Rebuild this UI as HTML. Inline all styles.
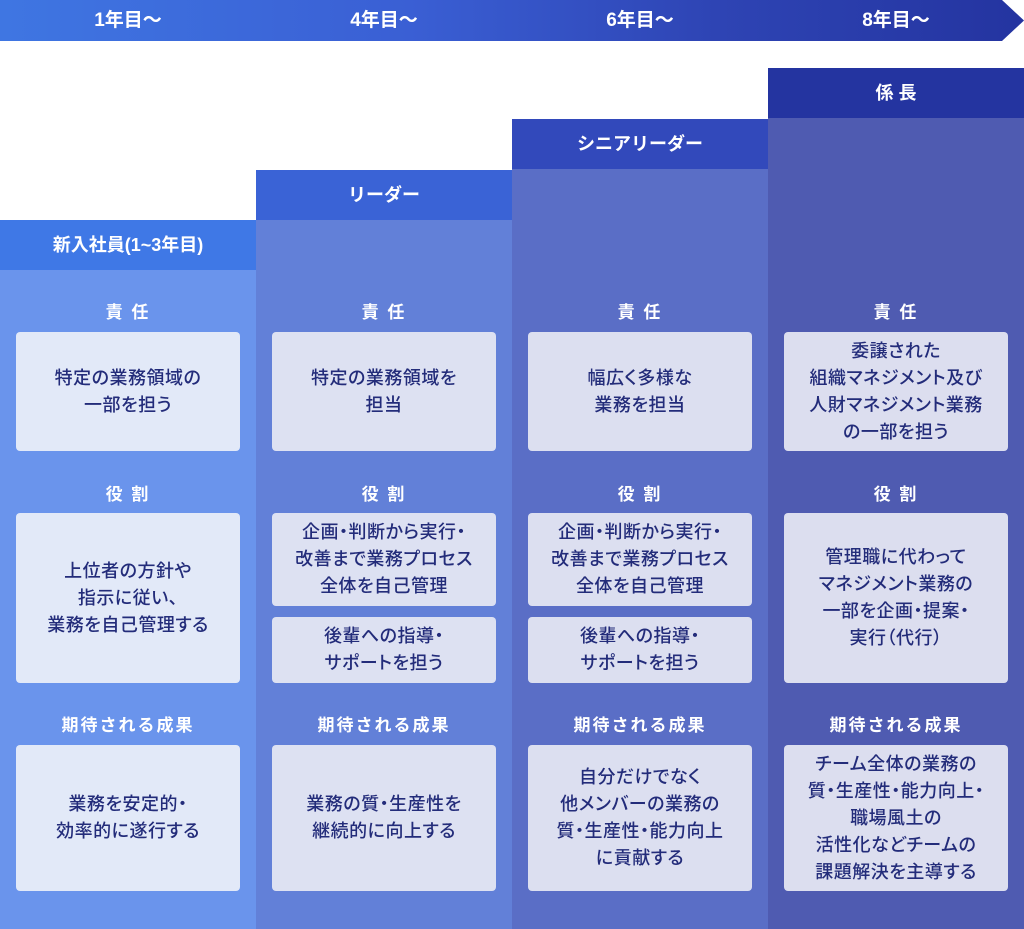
<!DOCTYPE html>
<html><head><meta charset="utf-8"><style>
*{margin:0;padding:0;box-sizing:border-box}
body{width:1024px;height:929px;position:relative;background:#fff;font-family:"Liberation Sans","Noto Sans CJK JP",sans-serif;overflow:hidden}
.bar{position:absolute;left:0;top:0;width:1024px;height:41px;background:linear-gradient(90deg,#3f76e2,#3a5fd4 40%,#2e44b4 70%,#2434a0);clip-path:polygon(0 0,1002px 0,1024px 20.5px,1002px 41px,0 41px)}
.yr{position:absolute;top:0;height:41px;line-height:41px;width:256px;text-align:center;color:#fff;font-weight:bold;font-size:19px}
.col{position:absolute;width:256px;bottom:0}
.hd{position:absolute;left:0;width:256px;height:50px;line-height:50px;text-align:center;color:#fff;font-weight:bold;font-size:18px}
.lb{position:absolute;width:256px;text-align:center;color:#fff;font-weight:bold;font-size:17px;letter-spacing:2px}
.bx{position:absolute;left:16px;width:224px;border-radius:4px;display:flex;align-items:center;justify-content:center;text-align:center;color:#232c7a;font-size:18px;line-height:27px;font-weight:500;font-feature-settings:"palt";letter-spacing:0.5px}
</style></head><body>
<div class="bar"></div>
<div class="yr" style="left:0">1年目〜</div>
<div class="yr" style="left:256px">4年目〜</div>
<div class="yr" style="left:512px">6年目〜</div>
<div class="yr" style="left:768px">8年目〜</div>

<div class="hd" style="left:0;top:220px;background:#3f78e6;position:absolute">新入社員(1~3年目)</div>
<div class="col" style="left:0;top:270px;background:#6a94ec"></div>
<div class="hd" style="left:256px;top:170px;background:#3a63d6">リーダー</div>
<div class="col" style="left:256px;top:220px;background:#6280d8"></div>
<div class="hd" style="left:512px;top:119px;background:#3249bb">シニアリーダー</div>
<div class="col" style="left:512px;top:169px;background:#5a6ec6"></div>
<div class="hd" style="left:768px;top:68px;background:#2434a0">係 長</div>
<div class="col" style="left:768px;top:118px;background:#4f5bb1"></div>

<div class="lb" style="left:0;top:298px">責 任</div>
<div class="bx" style="left:16px;top:332px;height:119px;background:#e2e9f8">特定の業務領域の<br>一部を担う</div>
<div class="lb" style="left:0;top:480px">役 割</div>
<div class="bx" style="left:16px;top:513px;height:170px;background:#e2e9f8">上位者の方針や<br>指示に従い、<br>業務を自己管理する</div>
<div class="lb" style="left:0;top:711px">期待される成果</div>
<div class="bx" style="left:16px;top:745px;height:146px;background:#e2e9f8">業務を安定的・<br>効率的に遂行する</div>

<div class="lb" style="left:256px;top:298px">責 任</div>
<div class="bx" style="left:272px;top:332px;height:119px;background:#dde1f2">特定の業務領域を<br>担当</div>
<div class="lb" style="left:256px;top:480px">役 割</div>
<div class="bx" style="left:272px;top:513px;height:93px;background:#dde1f2">企画・判断から実行・<br>改善まで業務プロセス<br>全体を自己管理</div>
<div class="bx" style="left:272px;top:617px;height:66px;background:#dde1f2">後輩への指導・<br>サポートを担う</div>
<div class="lb" style="left:256px;top:711px">期待される成果</div>
<div class="bx" style="left:272px;top:745px;height:146px;background:#dde1f2">業務の質・生産性を<br>継続的に向上する</div>

<div class="lb" style="left:512px;top:298px">責 任</div>
<div class="bx" style="left:528px;top:332px;height:119px;background:#dcdff0">幅広く多様な<br>業務を担当</div>
<div class="lb" style="left:512px;top:480px">役 割</div>
<div class="bx" style="left:528px;top:513px;height:93px;background:#dcdff0">企画・判断から実行・<br>改善まで業務プロセス<br>全体を自己管理</div>
<div class="bx" style="left:528px;top:617px;height:66px;background:#dcdff0">後輩への指導・<br>サポートを担う</div>
<div class="lb" style="left:512px;top:711px">期待される成果</div>
<div class="bx" style="left:528px;top:745px;height:146px;background:#dcdff0">自分だけでなく<br>他メンバーの業務の<br>質・生産性・能力向上<br>に貢献する</div>

<div class="lb" style="left:768px;top:298px">責 任</div>
<div class="bx" style="left:784px;top:332px;height:119px;background:#dcdeef">委譲された<br>組織マネジメント及び<br>人財マネジメント業務<br>の一部を担う</div>
<div class="lb" style="left:768px;top:480px">役 割</div>
<div class="bx" style="left:784px;top:513px;height:170px;background:#dcdeef">管理職に代わって<br>マネジメント業務の<br>一部を企画・提案・<br>実行（代行）</div>
<div class="lb" style="left:768px;top:711px">期待される成果</div>
<div class="bx" style="left:784px;top:745px;height:146px;background:#dcdeef">チーム全体の業務の<br>質・生産性・能力向上・<br>職場風土の<br>活性化などチームの<br>課題解決を主導する</div>
</body></html>
